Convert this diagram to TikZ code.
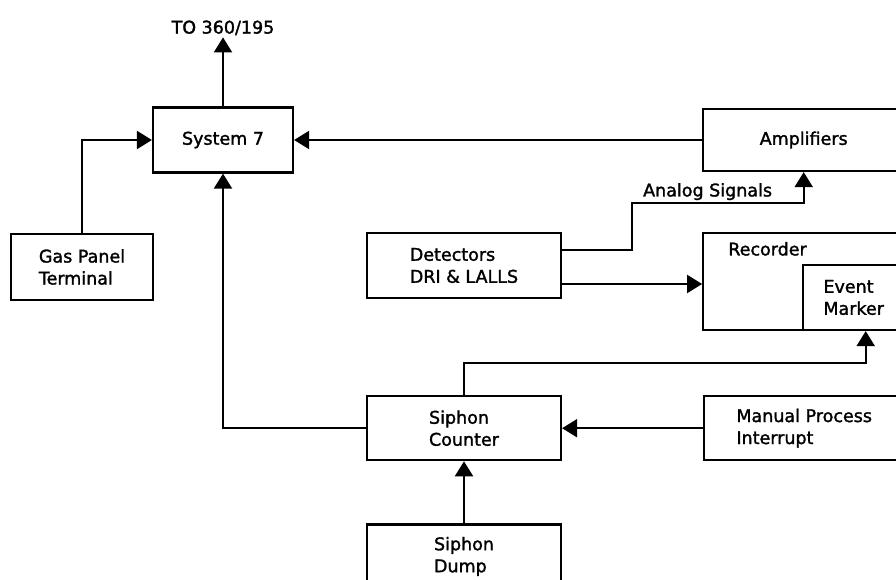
\documentclass[tikz,border=0pt]{standalone}
\usepackage{fontspec}
\setmainfont{DejaVu Sans}[FakeBold=1.6]
\usetikzlibrary{positioning,arrows.meta}

\begin{document}
\begin{tikzpicture}[
    x=1pt, y=-1pt,
    blk/.style={draw, line width=2.2pt, inner sep=0pt, font=\fontsize{17.5}{22}\selectfont, align=left},
    lbl/.style={font=\fontsize{17.5}{22}\selectfont, inner sep=2pt},
    arr/.style={-{Triangle[width=18pt,length=15pt]}, line width=2pt},
]
\useasboundingbox (0,0) rectangle (896,580);

% Host side
\node[blk, minimum width=140pt, minimum height=65pt] (sys) at (223,140) {System 7};
\node[lbl, above=69pt of sys] (host) {TO 360/195};
\node[blk, minimum width=142pt, minimum height=66pt] (gas) at (82,267) {Gas Panel\\Terminal};
\node[blk, minimum width=201pt, minimum height=62pt, right=408pt of sys] (amp) {Amplifiers};

% Instruments
\node[blk, minimum width=194pt, minimum height=65pt] (det) at (464,265.5) {Detectors\\DRI \& LALLS};
\node[blk, minimum width=201pt, minimum height=97pt, right=140pt of det.north east, anchor=north west] (rec) {};
\node[lbl, anchor=west] (reclbl) at ([xshift=24pt,yshift=-17pt]rec.north west) {Recorder};
\node[blk, minimum width=101pt, minimum height=65pt, anchor=south east] (evt) at (rec.south east) {Event\\Marker};

% Siphon
\node[blk, minimum width=194pt, minimum height=64pt, below=96pt of det] (ctr) {Siphon\\Counter};
\node[blk, minimum width=200pt, minimum height=64pt, right=141pt of ctr] (man) {Manual Process\\Interrupt};
\node[blk, minimum width=194pt, minimum height=64pt, below=62pt of ctr] (dump) {Siphon\\Dump};

\coordinate (d1) at ([yshift=16pt]det.east);
\coordinate (d2) at ([yshift=-18.5pt]det.east);

% Arrows
\draw[arr] (sys.north) -- (host.south);
\draw[arr] (gas.north) |- (sys.west);
\draw[arr] (amp.west) -- (sys.east);
\draw[arr] (d1) -- ++(70,0) |- node[lbl, above, pos=0.72] {Analog Signals} ([yshift=-31pt]amp.south) -- (amp.south);
\draw[arr] (d2) -- (d2 -| rec.west);
\draw[arr] (ctr.north) -- ++(0,-32) -| ([xshift=12pt]evt.south);
\draw[arr] (ctr.west) -| (sys.south);
\draw[arr] (man.west) -- (ctr.east);
\draw[arr] (dump.north) -- (ctr.south);
\end{tikzpicture}
\end{document}
